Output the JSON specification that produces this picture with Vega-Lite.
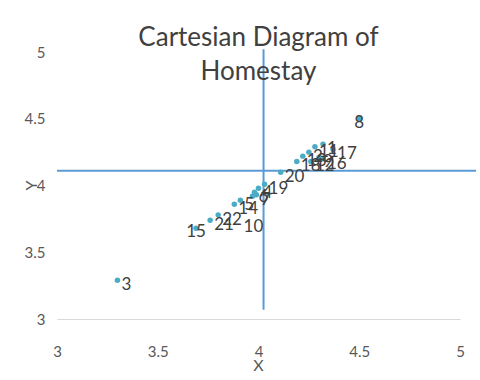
{
  "$schema": "https://vega.github.io/schema/vega-lite/v6.json",
  "width": 403,
  "height": 267,
  "autosize": {"type": "none"},
  "padding": {"left": 57, "top": 52, "right": 20, "bottom": 61},
  "background": "white",
  "title": {
    "text": ["Cartesian Diagram of", "Homestay"],
    "font": "Lato",
    "fontSize": 26,
    "fontWeight": "normal",
    "color": "#404040",
    "lineHeight": 34,
    "anchor": "middle",
    "offset": -40
  },
  "config": {
    "view": {"stroke": null},
    "font": "Lato"
  },
  "datasets": {
    "pts": [
      {"id": "1", "x": 4.32, "y": 4.31},
      {"id": "2", "x": 4.25, "y": 4.25},
      {"id": "3", "x": 3.30, "y": 3.29},
      {"id": "4", "x": 4.00, "y": 3.98},
      {"id": "5", "x": 3.91, "y": 3.89},
      {"id": "6", "x": 3.98, "y": 3.95},
      {"id": "7", "x": 3.99, "y": 3.93},
      {"id": "8", "x": 4.50, "y": 4.50},
      {"id": "9", "x": 4.30, "y": 4.21},
      {"id": "10", "x": 3.97, "y": 3.92},
      {"id": "11", "x": 4.28, "y": 4.29},
      {"id": "12", "x": 4.26, "y": 4.18},
      {"id": "13", "x": 4.22, "y": 4.22},
      {"id": "14", "x": 3.88, "y": 3.86},
      {"id": "15", "x": 3.69, "y": 3.68},
      {"id": "16", "x": 4.32, "y": 4.20},
      {"id": "17", "x": 4.37, "y": 4.27},
      {"id": "18", "x": 4.19, "y": 4.18},
      {"id": "19", "x": 4.03, "y": 4.01},
      {"id": "20", "x": 4.11, "y": 4.10},
      {"id": "21", "x": 3.76, "y": 3.74},
      {"id": "22", "x": 3.80, "y": 3.78}
    ],
    "vline": [{"x": 4.025, "y": 3.07, "y2": 5.02}],
    "hline": [{"x": 3.0, "x2": 5.08, "y": 4.11}]
  },
  "layer": [
    {
      "data": {"name": "vline"},
      "mark": {"type": "rule", "color": "#5b9bd5", "strokeWidth": 2},
      "encoding": {
        "x": {"field": "x", "type": "quantitative", "scale": {"domain": [3, 5], "nice": false, "zero": false},
          "axis": {"values": [3, 3.5, 4, 4.5, 5], "format": "~g", "title": "X", "grid": false, "ticks": false, "domain": true, "domainColor": "#d9d9d9", "domainWidth": 1,
            "labelFont": "Lato", "labelFontSize": 15, "labelColor": "#595959", "labelPadding": 25,
            "titleFont": "Lato", "titleFontSize": 16, "titleFontWeight": "normal", "titleColor": "#595959", "titleX": 201, "titleY": 46, "titleBaseline": "middle", "labelFlush": false}},
        "y": {"field": "y", "type": "quantitative", "scale": {"domain": [3, 5], "nice": false, "zero": false},
          "axis": {"values": [3, 3.5, 4, 4.5, 5], "format": "~g", "title": "Y", "grid": false, "ticks": false, "domain": false,
            "labelFont": "Lato", "labelFontSize": 15, "labelColor": "#595959", "labelPadding": 12,
            "titleFont": "Lato", "titleFontSize": 16, "titleFontWeight": "normal", "titleColor": "#595959", "titleX": -26, "titleY": 133, "titleAngle": -90, "titleBaseline": "middle", "labelFlush": false}},
        "y2": {"field": "y2"}
      }
    },
    {
      "data": {"name": "hline"},
      "mark": {"type": "rule", "color": "#5b9bd5", "strokeWidth": 2},
      "encoding": {
        "x": {"field": "x", "type": "quantitative"},
        "x2": {"field": "x2"},
        "y": {"field": "y", "type": "quantitative"}
      }
    },
    {
      "data": {"name": "pts"},
      "mark": {"type": "circle", "color": "#4bacc6", "opacity": 1, "size": 30},
      "encoding": {
        "x": {"field": "x", "type": "quantitative"},
        "y": {"field": "y", "type": "quantitative"}
      }
    },
    {
      "data": {"name": "pts"},
      "transform": [{"filter": "datum.id != '8' && datum.id != '15' && datum.id != '10'"}],
      "mark": {"type": "text", "align": "left", "baseline": "middle", "dx": 4, "dy": 5, "fontSize": 17, "color": "#404040", "font": "Lato"},
      "encoding": {
        "x": {"field": "x", "type": "quantitative"},
        "y": {"field": "y", "type": "quantitative"},
        "text": {"field": "id"}
      }
    },
    {
      "data": {"name": "pts"},
      "transform": [{"filter": "datum.id == '8' || datum.id == '15'"}],
      "mark": {"type": "text", "align": "center", "baseline": "middle", "dx": 0, "dy": 4, "fontSize": 17, "color": "#404040", "font": "Lato"},
      "encoding": {
        "x": {"field": "x", "type": "quantitative"},
        "y": {"field": "y", "type": "quantitative"},
        "text": {"field": "id"}
      }
    },
    {
      "data": {"name": "pts"},
      "transform": [{"filter": "datum.id == '10'"}],
      "mark": {"type": "text", "align": "center", "baseline": "middle", "dx": 1, "dy": 31, "fontSize": 17, "color": "#404040", "font": "Lato"},
      "encoding": {
        "x": {"field": "x", "type": "quantitative"},
        "y": {"field": "y", "type": "quantitative"},
        "text": {"field": "id"}
      }
    }
  ]
}
